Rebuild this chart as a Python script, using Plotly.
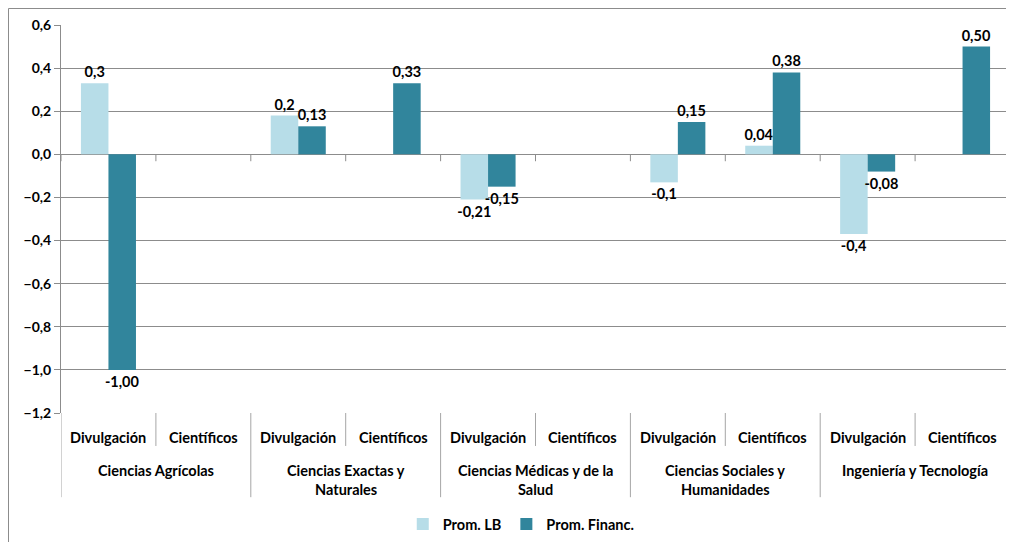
import plotly.graph_objects as go

parents = ["Ciencias Agrícolas", "Ciencias Exactas y Naturales", "Ciencias Médicas y de la Salud",
           "Ciencias Sociales y Humanidades", "Ingeniería y Tecnología"]
parent_lines = [["Ciencias Agrícolas"], ["Ciencias Exactas y", "Naturales"],
                ["Ciencias Médicas y de la", "Salud"], ["Ciencias Sociales y", "Humanidades"],
                ["Ingeniería y Tecnología"]]
children = ["Divulgación", "Científicos"]

categories = [f"{p} | {c}" for p in parents for c in children]

prom_lb = [0.33, None, 0.18, None, -0.21, None, -0.13, 0.04, -0.37, None]
prom_lb_text = ["0,3", "", "0,2", "", "-0,21", "", "-0,1", "0,04", "-0,4", ""]
prom_fin = [-1.00, None, 0.13, 0.33, -0.15, None, 0.15, 0.38, -0.08, 0.50]
prom_fin_text = ["-1,00", "", "0,13", "0,33", "-0,15", "", "0,15", "0,38", "-0,08", "0,50"]

y_ticks = [0.6, 0.4, 0.2, 0.0, -0.2, -0.4, -0.6, -0.8, -1.0, -1.2]

FONT = "Lato"
FS = 14.5
GRID = "#8c8c8c"
DIV = "#a6a6a6"

def bold_font(size=FS):
    return dict(family=FONT, size=size, color="black", weight="bold")

fig = go.Figure()
fig.add_trace(go.Bar(name="Prom. LB", x=categories, y=prom_lb, text=prom_lb_text,
                     textposition="outside", constraintext="none",
                     marker=dict(color="#b7dde8", line=dict(width=0)),
                     textfont=bold_font(), cliponaxis=False))
fig.add_trace(go.Bar(name="Prom. Financ.", x=categories, y=prom_fin, text=prom_fin_text,
                     textposition="outside", constraintext="none",
                     marker=dict(color="#31859c", line=dict(width=0)),
                     textfont=bold_font(), cliponaxis=False))

n = len(categories)
shapes = []
# tick marks on zero line
for i in range(n + 1):
    shapes.append(dict(type="line", xref="x", yref="y", x0=i - 0.5, x1=i - 0.5, y0=0, y1=-0.032,
                       line=dict(color=GRID, width=1)))
# dividers below axis
for i in range(n + 1):
    bottom = -0.217 if i % 2 == 0 else -0.085
    shapes.append(dict(type="line", xref="x", yref="paper", x0=i - 0.5, x1=i - 0.5, y0=0, y1=bottom,
                       line=dict(color=DIV, width=1)))
# outer chart border (left and top)
bx = -52.5 / 949
by = 1 + 16.5 / 388
shapes.append(dict(type="line", xref="paper", yref="paper", x0=bx, x1=bx, y0=by, y1=-0.45,
                   line=dict(color="#8c8c8c", width=1)))
shapes.append(dict(type="line", xref="paper", yref="paper", x0=bx, x1=1.1, y0=by, y1=by,
                   line=dict(color="#8c8c8c", width=1)))

annotations = []
for i in range(n):
    annotations.append(dict(x=i, y=-0.062, xref="x", yref="paper", text=children[i % 2],
                            showarrow=False, yanchor="middle", font=bold_font()))
for j, lines in enumerate(parent_lines):
    for k, line in enumerate(lines):
        annotations.append(dict(x=2 * j + 0.5, y=-0.149 - k * 0.049, xref="x", yref="paper", text=line,
                                showarrow=False, yanchor="middle", font=bold_font()))

fig.update_layout(
    width=1006, height=534,
    margin=dict(l=53, r=4, t=17, b=129, autoexpand=False),
    paper_bgcolor="white", plot_bgcolor="white",
    barmode="group", bargap=0.42, bargroupgap=0,
    separators=",.",
    showlegend=True,
    legend=dict(orientation="h", x=0.485, xanchor="center", y=-0.286, yanchor="middle",
                font=bold_font(), itemwidth=30, tracegroupgap=0),
    xaxis=dict(type="category", range=[-0.5, n - 0.5], showticklabels=False, showgrid=False,
               zeroline=False, showline=False, ticks="", automargin=False),
    yaxis=dict(range=[-1.2, 0.6], tickvals=y_ticks, tickformat=".1f", showgrid=True, gridcolor=GRID,
               gridwidth=1, zeroline=True, zerolinecolor=GRID, zerolinewidth=1,
               showline=True, linecolor=GRID, linewidth=1, ticks="outside", ticklen=6, tickcolor=GRID,
               tickfont=bold_font(14), automargin=False),
    shapes=shapes,
    annotations=annotations,
    font=dict(family=FONT),
)

fig.write_html("out.html")
